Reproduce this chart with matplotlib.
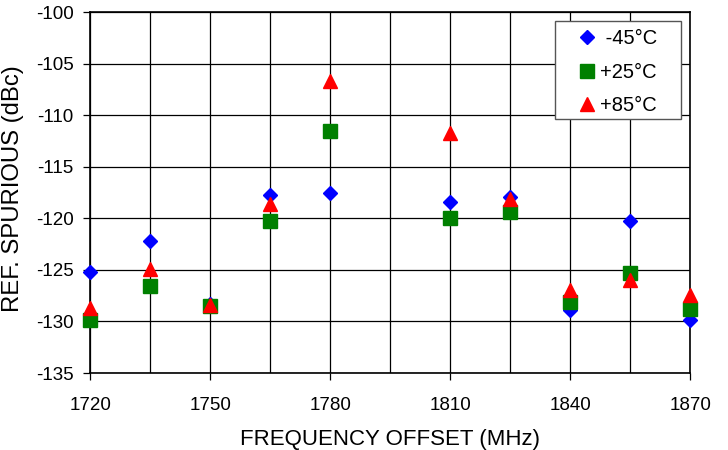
import numpy as np
import matplotlib.pyplot as plt
from matplotlib.patches import Rectangle

plt.rcParams['font.family'] = ['Liberation Sans', 'DejaVu Sans']
plt.rcParams['axes.unicode_minus'] = False

freq = np.array([1720, 1735, 1750, 1765, 1780, 1810, 1825, 1840, 1855, 1870])
minus45 = np.array([-125.2, -122.2, -128.3, -117.7, -117.5, -118.4, -117.9, -128.9, -120.3, -129.9])
plus25 = np.array([-129.9, -126.6, -128.5, -120.3, -111.5, -120.0, -119.4, -128.1, -125.3, -128.8])
plus85 = np.array([-128.7, -124.9, -128.4, -118.6, -106.7, -111.7, -118.1, -126.9, -126.0, -127.4])


def main():
    fig = plt.figure(figsize=(7.28, 4.5), dpi=100)
    ax = fig.add_axes([0.124, 0.171, 0.824, 0.802])

    ax.plot(freq, minus45, linestyle='none', marker='D', markersize=7.3,
            color='#0000ff', label=' -45°C', zorder=3, clip_on=False)
    ax.plot(freq, plus25, linestyle='none', marker='s', markersize=10.3,
            color='#008000', label='+25°C', zorder=4, clip_on=False)
    ax.plot(freq, plus85, linestyle='none', marker='^', markersize=10.5,
            color='#ff0000', label='+85°C', zorder=5, clip_on=False)

    ax.set_xlim(1720, 1870)
    ax.set_ylim(-135, -100)
    ax.set_xticks(np.arange(1720, 1871, 30))
    ax.set_xticks(np.arange(1720, 1871, 15), minor=True)
    ax.set_yticks(np.arange(-135, -99, 5))
    ax.grid(True, which='both', color='black', linewidth=0.9, zorder=1)
    ax.tick_params(which='major', length=5, width=0.9, labelsize=13.5)
    ax.tick_params(which='minor', length=0)
    ax.tick_params(axis='x', pad=12)
    ax.tick_params(axis='y', pad=7)
    ax.set_axisbelow(True)
    for s in ax.spines.values():
        s.set_linewidth(1.2)

    ax.set_xlabel('FREQUENCY OFFSET (MHz)', fontsize=16, labelpad=11)
    ax.set_ylabel('REF. SPURIOUS (dBc)', fontsize=17.2)
    ax.yaxis.set_label_coords(-0.11, 0.512)

    # legend box drawn separately so side padding can be wider than top/bottom
    box = Rectangle((0.775, 0.704), 0.21, 0.271, transform=ax.transAxes,
                    facecolor='white', edgecolor='#555555', linewidth=1.0,
                    zorder=6)
    ax.add_patch(box)
    ax.legend(loc='center', bbox_to_anchor=(0.88, 0.834), frameon=False,
              fontsize=14.5, handlelength=0.8, handletextpad=0.25,
              borderpad=0, borderaxespad=0, labelspacing=0.72).set_zorder(7)

    fig.savefig('out.png', dpi=100)


if __name__ == '__main__':
    main()
